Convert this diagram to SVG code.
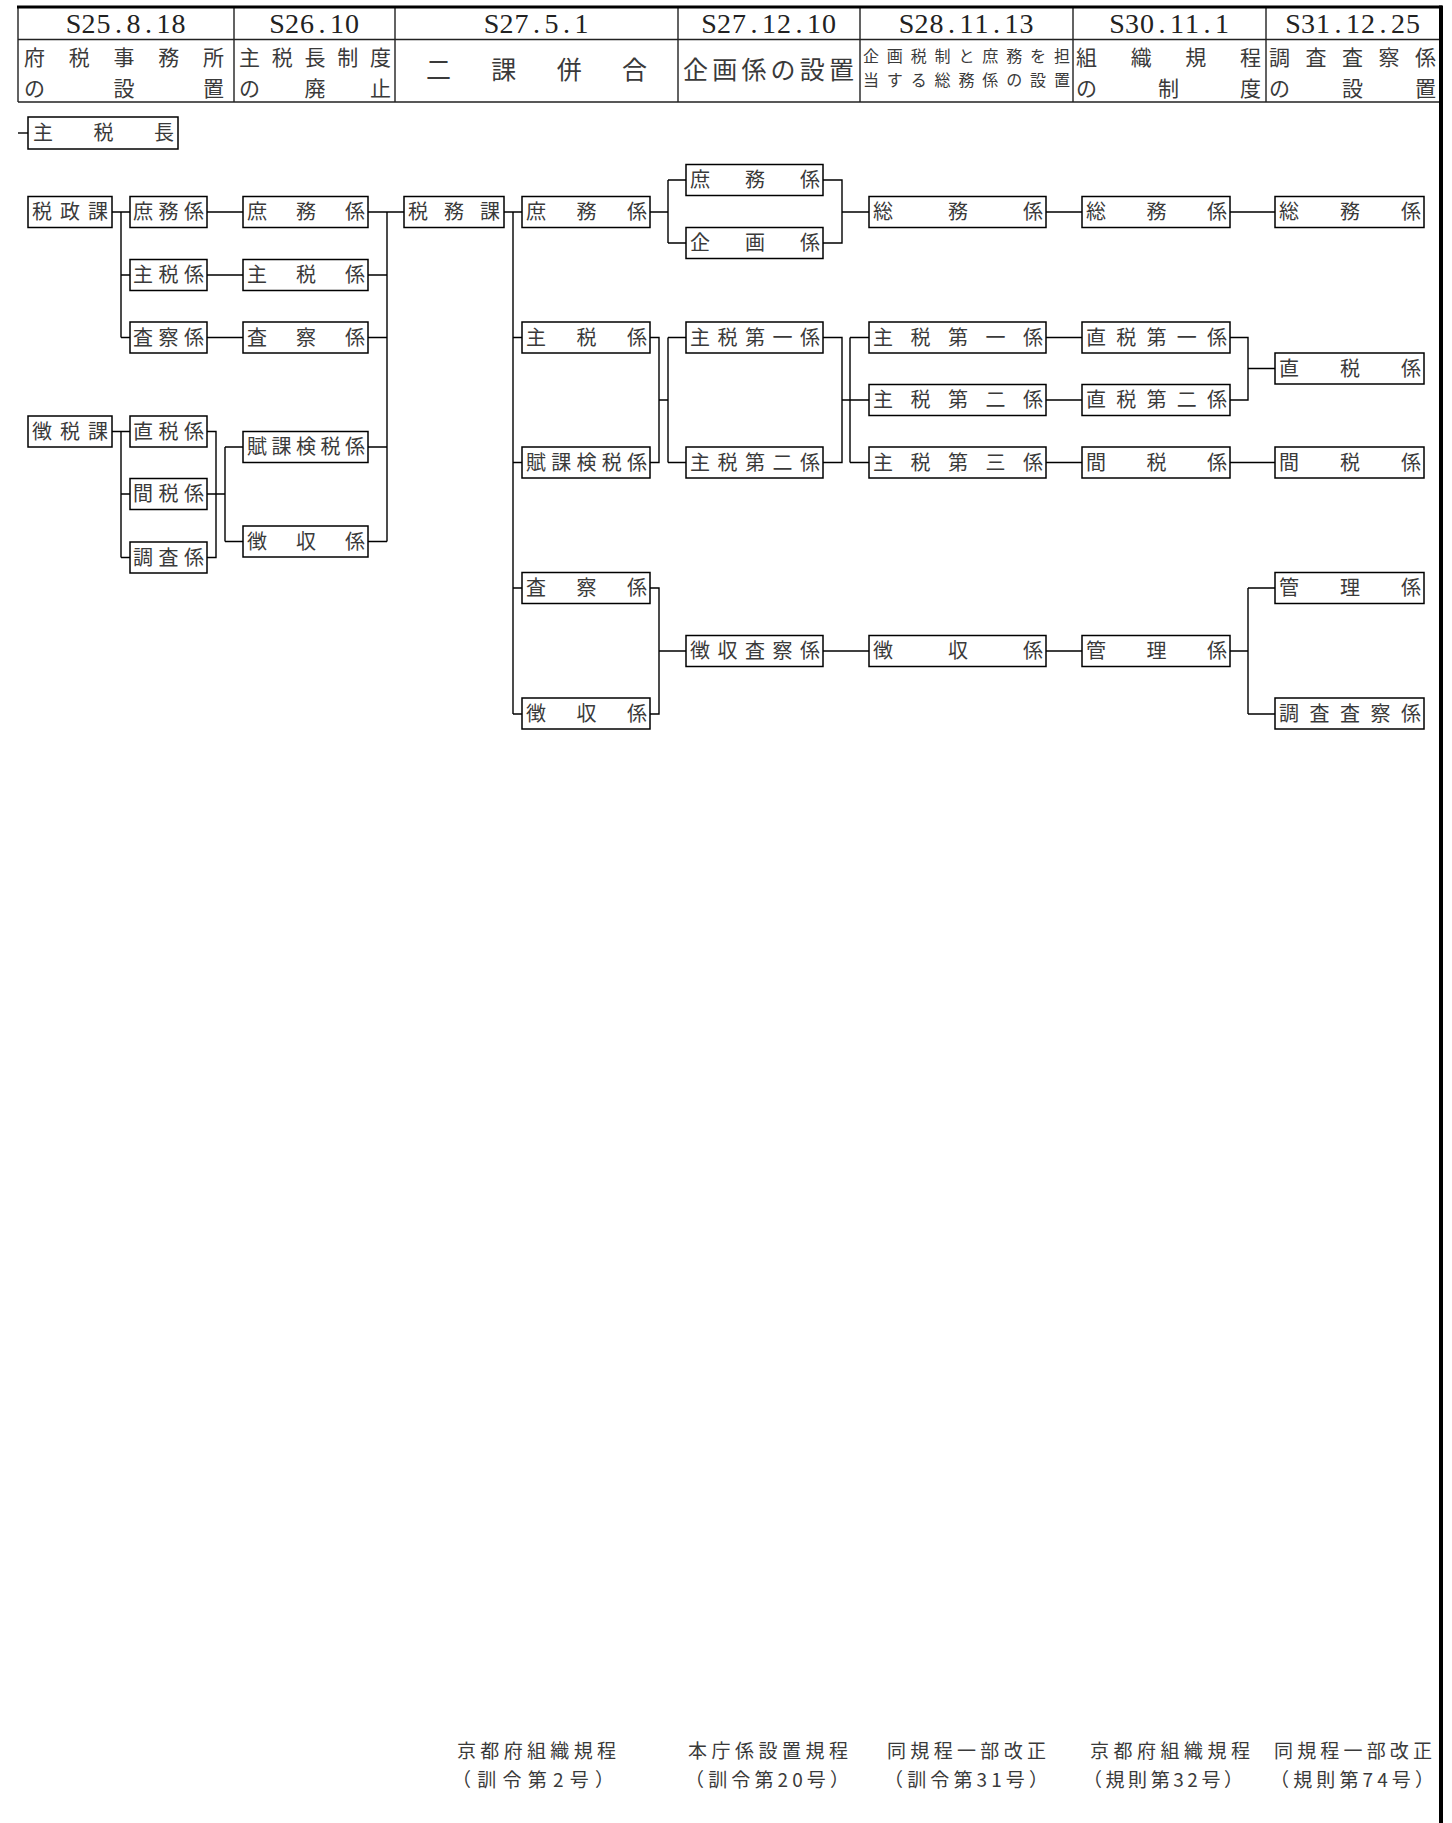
<svg xmlns="http://www.w3.org/2000/svg" width="1452" height="1823" viewBox="0 0 1452 1823">
<style>
.bg{fill:#fff}
.grid{stroke:#222;stroke-width:1.4;fill:none}
.thick{stroke:#000;fill:none}
.date{font-family:"Liberation Serif",serif;font-size:28px;fill:#222;text-anchor:middle}
.hd{font-family:"Noto Sans CJK JP","Noto Sans CJK SC",sans-serif;font-size:21px;fill:#3a3a3a}
.hs{font-family:"Noto Sans CJK JP","Noto Sans CJK SC",sans-serif;font-size:16px;fill:#3a3a3a}
.hm{font-family:"Noto Sans CJK JP","Noto Sans CJK SC",sans-serif;font-size:25px;fill:#3a3a3a}
.node rect{fill:#fff;stroke:#000;stroke-width:1.5}
.node text{font-family:"Noto Sans CJK JP","Noto Sans CJK SC",sans-serif;font-size:20px;fill:#3a3a3a}
.conn path{stroke:#000;stroke-width:1.4;fill:none}
.ft{font-family:"Noto Sans CJK JP","Noto Sans CJK SC",sans-serif;font-size:19px;fill:#3a3a3a}
</style>
<rect class="bg" x="0" y="0" width="1452" height="1823"/>

<g id="header">
  <path class="grid" d="M18,7 V102 M18,39.5 H1440 M18,102 H1440 M234,7 V102 M395,7 V102 M678,7 V102 M860,7 V102 M1073,7 V102 M1266,7 V102"/>
  <path class="thick" stroke-width="3" d="M17,7 H1442"/>
  <path class="thick" stroke-width="4" d="M1441,5.5 V1823"/>
  <text class="date" x="73.5 88.5 103.5 118.5 133.5 148.5 163.5 178.5" y="33">S25.8.18</text>
  <text class="date" x="277 292 307 322 337 352" y="33">S26.10</text>
  <text class="date" x="491.5 506.5 521.5 536.5 551.5 566.5 581.5" y="33">S27.5.1</text>
  <text class="date" x="709 724 739 754 769 784 799 814 829" y="33">S27.12.10</text>
  <text class="date" x="906.5 921.5 936.5 951.5 966.5 981.5 996.5 1011.5 1026.5" y="33">S28.11.13</text>
  <text class="date" x="1117 1132 1147 1162 1177 1192 1207 1222" y="33">S30.11.1</text>
  <text class="date" x="1293 1308 1323 1338 1353 1368 1383 1398 1413" y="33">S31.12.25</text>
  <text class="hd" x="24" y="65" textLength="200" lengthAdjust="spacing">府税事務所</text>
  <text class="hd" x="24" y="95.5" textLength="200" lengthAdjust="spacing">の設置</text>
  <text class="hd" x="239" y="65" textLength="152" lengthAdjust="spacing">主税長制度</text>
  <text class="hd" x="239" y="95.5" textLength="152" lengthAdjust="spacing">の廃止</text>
  <text class="hm" x="426" y="79" textLength="221" lengthAdjust="spacing">二課併合</text>
  <text class="hm" x="683" y="79" textLength="171" lengthAdjust="spacing">企画係の設置</text>
  <text class="hs" x="863" y="62" textLength="207" lengthAdjust="spacing">企画税制と庶務を担</text>
  <text class="hs" x="863" y="86" textLength="207" lengthAdjust="spacing">当する総務係の設置</text>
  <text class="hd" x="1076" y="65" textLength="185" lengthAdjust="spacing">組織規程</text>
  <text class="hd" x="1076" y="95.5" textLength="185" lengthAdjust="spacing">の制度</text>
  <text class="hd" x="1269" y="65" textLength="167" lengthAdjust="spacing">調査査察係</text>
  <text class="hd" x="1269" y="95.5" textLength="167" lengthAdjust="spacing">の設置</text>
</g>

<g id="connectors" class="conn">
  <path d="M18,133 H28"/>
  <path d="M112,212 H130 M121,212 V337.5 M121,275 H130 M121,337.5 H130"/>
  <path d="M207,212 H243 M207,275 H243 M207,337.5 H243"/>
  <path d="M368,212 H404 M387,212 V541.5 M368,275 H387 M368,337.5 H387 M368,447 H387 M368,541.5 H387"/>
  <path d="M112,431.5 H130 M121,431.5 V557.5 M121,494 H130 M121,557.5 H130"/>
  <path d="M207,431.5 H216 V557.5 H207 M207,494 H225 M225,447 V541.5 M225,447 H243 M225,541.5 H243"/>
  <path d="M504,212 H522 M513,212 V714 M513,337.5 H522 M513,462.5 H522 M513,588 H522 M513,714 H522"/>
  <path d="M650,212 H668 M668,180 V243 M668,180 H686 M668,243 H686"/>
  <path d="M650,337.5 H659 V462.5 H650 M659,400 H668 M668,337.5 V462.5 M668,337.5 H686 M668,462.5 H686"/>
  <path d="M650,588 H659 V714 H650 M659,651 H686"/>
  <path d="M823,180 H842 V243 H823 M842,212 H869"/>
  <path d="M823,337.5 H842 V462.5 H823 M842,400 H869 M850,337.5 V462.5 M850,337.5 H869 M850,462.5 H869"/>
  <path d="M823,651 H869"/>
  <path d="M1046,212 H1082 M1046,337.5 H1082 M1046,400 H1082 M1046,462.5 H1082 M1046,651 H1082"/>
  <path d="M1230,212 H1275 M1230,337.5 H1248 V400 H1230 M1248,368.5 H1275 M1230,462.5 H1275"/>
  <path d="M1230,651 H1248 M1248,588 V714 M1248,588 H1275 M1248,714 H1275"/>
</g>

<g id="n-shuzeicho" class="node"><rect x="28" y="117" width="150" height="32"/><text x="33" y="140" textLength="141" lengthAdjust="spacing">主税長</text></g>

<g id="a-zeiseika" class="node"><rect x="28" y="196.5" width="84" height="31"/><text x="32" y="219" textLength="76" lengthAdjust="spacing">税政課</text></g>
<g id="a-choseika" class="node"><rect x="28" y="416" width="84" height="31"/><text x="32" y="438.5" textLength="76" lengthAdjust="spacing">徴税課</text></g>

<g id="b-shomu" class="node"><rect x="130" y="196.5" width="77" height="31"/><text x="133" y="219" textLength="71" lengthAdjust="spacing">庶務係</text></g>
<g id="b-shuzei" class="node"><rect x="130" y="259.5" width="77" height="31"/><text x="133" y="282" textLength="71" lengthAdjust="spacing">主税係</text></g>
<g id="b-sasatsu" class="node"><rect x="130" y="322" width="77" height="31"/><text x="133" y="344.5" textLength="71" lengthAdjust="spacing">査察係</text></g>
<g id="b-chokuzei" class="node"><rect x="130" y="416" width="77" height="31"/><text x="133" y="438.5" textLength="71" lengthAdjust="spacing">直税係</text></g>
<g id="b-kanzei" class="node"><rect x="130" y="478.5" width="77" height="31"/><text x="133" y="501" textLength="71" lengthAdjust="spacing">間税係</text></g>
<g id="b-chosa" class="node"><rect x="130" y="542" width="77" height="31"/><text x="133" y="564.5" textLength="71" lengthAdjust="spacing">調査係</text></g>

<g id="c-shomu" class="node"><rect x="243" y="196.5" width="125" height="31"/><text x="247" y="219" textLength="118" lengthAdjust="spacing">庶務係</text></g>
<g id="c-shuzei" class="node"><rect x="243" y="259.5" width="125" height="31"/><text x="247" y="282" textLength="118" lengthAdjust="spacing">主税係</text></g>
<g id="c-sasatsu" class="node"><rect x="243" y="322" width="125" height="31"/><text x="247" y="344.5" textLength="118" lengthAdjust="spacing">査察係</text></g>
<g id="c-fuka" class="node"><rect x="243" y="431.5" width="125" height="31"/><text x="247" y="454" textLength="118" lengthAdjust="spacing">賦課検税係</text></g>
<g id="c-choshu" class="node"><rect x="243" y="526" width="125" height="31"/><text x="247" y="548.5" textLength="118" lengthAdjust="spacing">徴収係</text></g>

<g id="d-zeimuka" class="node"><rect x="404" y="196.5" width="100" height="31"/><text x="408" y="219" textLength="92" lengthAdjust="spacing">税務課</text></g>

<g id="e-shomu" class="node"><rect x="522" y="196.5" width="128" height="31"/><text x="526" y="219" textLength="121" lengthAdjust="spacing">庶務係</text></g>
<g id="e-shuzei" class="node"><rect x="522" y="322" width="128" height="31"/><text x="526" y="344.5" textLength="121" lengthAdjust="spacing">主税係</text></g>
<g id="e-fuka" class="node"><rect x="522" y="447" width="128" height="31"/><text x="526" y="469.5" textLength="121" lengthAdjust="spacing">賦課検税係</text></g>
<g id="e-sasatsu" class="node"><rect x="522" y="572.5" width="128" height="31"/><text x="526" y="595" textLength="121" lengthAdjust="spacing">査察係</text></g>
<g id="e-choshu" class="node"><rect x="522" y="698" width="128" height="31"/><text x="526" y="720.5" textLength="121" lengthAdjust="spacing">徴収係</text></g>

<g id="f-shomu" class="node"><rect x="686" y="164.5" width="137" height="31"/><text x="690" y="187" textLength="130" lengthAdjust="spacing">庶務係</text></g>
<g id="f-kikaku" class="node"><rect x="686" y="227.5" width="137" height="31"/><text x="690" y="250" textLength="130" lengthAdjust="spacing">企画係</text></g>
<g id="f-shuzei1" class="node"><rect x="686" y="322" width="137" height="31"/><text x="690" y="344.5" textLength="130" lengthAdjust="spacing">主税第一係</text></g>
<g id="f-shuzei2" class="node"><rect x="686" y="447" width="137" height="31"/><text x="690" y="469.5" textLength="130" lengthAdjust="spacing">主税第二係</text></g>
<g id="f-choshusasatsu" class="node"><rect x="686" y="635.5" width="137" height="31"/><text x="690" y="658" textLength="130" lengthAdjust="spacing">徴収査察係</text></g>

<g id="g-somu" class="node"><rect x="869" y="196.5" width="177" height="31"/><text x="873" y="219" textLength="170" lengthAdjust="spacing">総務係</text></g>
<g id="g-shuzei1" class="node"><rect x="869" y="322" width="177" height="31"/><text x="873" y="344.5" textLength="170" lengthAdjust="spacing">主税第一係</text></g>
<g id="g-shuzei2" class="node"><rect x="869" y="384.5" width="177" height="31"/><text x="873" y="407" textLength="170" lengthAdjust="spacing">主税第二係</text></g>
<g id="g-shuzei3" class="node"><rect x="869" y="447" width="177" height="31"/><text x="873" y="469.5" textLength="170" lengthAdjust="spacing">主税第三係</text></g>
<g id="g-choshu" class="node"><rect x="869" y="635.5" width="177" height="31"/><text x="873" y="658" textLength="170" lengthAdjust="spacing">徴収係</text></g>

<g id="h-somu" class="node"><rect x="1082" y="196.5" width="148" height="31"/><text x="1086" y="219" textLength="141" lengthAdjust="spacing">総務係</text></g>
<g id="h-chokuzei1" class="node"><rect x="1082" y="322" width="148" height="31"/><text x="1086" y="344.5" textLength="141" lengthAdjust="spacing">直税第一係</text></g>
<g id="h-chokuzei2" class="node"><rect x="1082" y="384.5" width="148" height="31"/><text x="1086" y="407" textLength="141" lengthAdjust="spacing">直税第二係</text></g>
<g id="h-kanzei" class="node"><rect x="1082" y="447" width="148" height="31"/><text x="1086" y="469.5" textLength="141" lengthAdjust="spacing">間税係</text></g>
<g id="h-kanri" class="node"><rect x="1082" y="635.5" width="148" height="31"/><text x="1086" y="658" textLength="141" lengthAdjust="spacing">管理係</text></g>

<g id="i-somu" class="node"><rect x="1275" y="196.5" width="149" height="31"/><text x="1279" y="219" textLength="142" lengthAdjust="spacing">総務係</text></g>
<g id="i-chokuzei" class="node"><rect x="1275" y="353" width="149" height="31"/><text x="1279" y="375.5" textLength="142" lengthAdjust="spacing">直税係</text></g>
<g id="i-kanzei" class="node"><rect x="1275" y="447" width="149" height="31"/><text x="1279" y="469.5" textLength="142" lengthAdjust="spacing">間税係</text></g>
<g id="i-kanri" class="node"><rect x="1275" y="572.5" width="149" height="31"/><text x="1279" y="595" textLength="142" lengthAdjust="spacing">管理係</text></g>
<g id="i-chosasasatsu" class="node"><rect x="1275" y="698" width="149" height="31"/><text x="1279" y="720.5" textLength="142" lengthAdjust="spacing">調査査察係</text></g>

<g id="footer">
  <text class="ft" x="457" y="1758" textLength="159" lengthAdjust="spacing">京都府組織規程</text>
  <text class="ft" x="452" y="1787" textLength="162" lengthAdjust="spacing">（訓令第2号）</text>
  <text class="ft" x="688" y="1758" textLength="160" lengthAdjust="spacing">本庁係設置規程</text>
  <text class="ft" x="685" y="1787" textLength="164" lengthAdjust="spacing">（訓令第20号）</text>
  <text class="ft" x="887" y="1758" textLength="159" lengthAdjust="spacing">同規程一部改正</text>
  <text class="ft" x="884" y="1787" textLength="164" lengthAdjust="spacing">（訓令第31号）</text>
  <text class="ft" x="1090" y="1758" textLength="160" lengthAdjust="spacing">京都府組織規程</text>
  <text class="ft" x="1083" y="1787" textLength="160" lengthAdjust="spacing">（規則第32号）</text>
  <text class="ft" x="1274" y="1758" textLength="158" lengthAdjust="spacing">同規程一部改正</text>
  <text class="ft" x="1270" y="1787" textLength="164" lengthAdjust="spacing">（規則第74号）</text>
</g>
</svg>
